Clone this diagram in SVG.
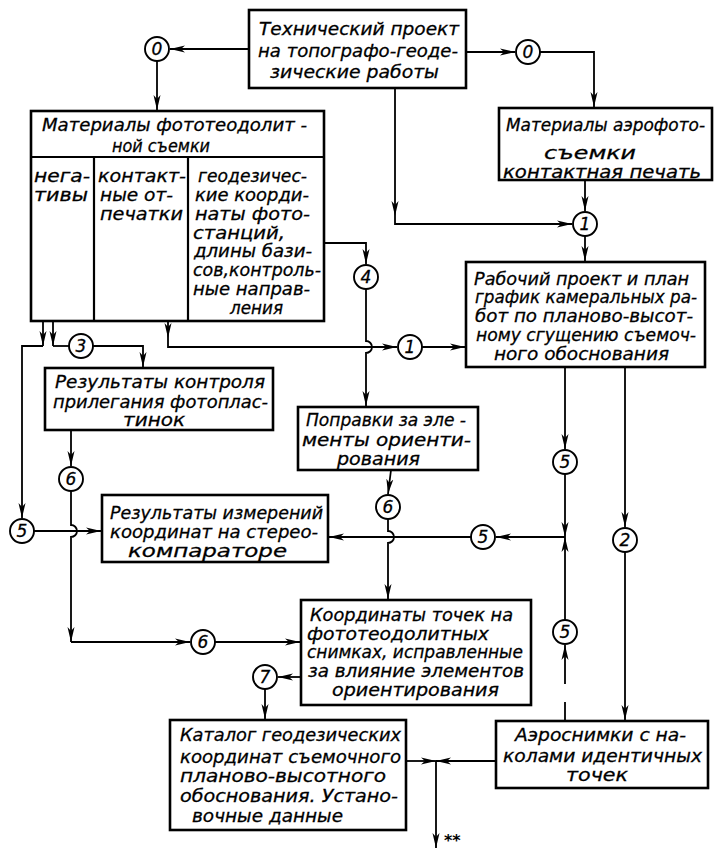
<svg xmlns="http://www.w3.org/2000/svg" width="716" height="850" viewBox="0 0 716 850">
<defs>
<marker id="ah" markerWidth="15" markerHeight="8" refX="15" refY="4" orient="auto" markerUnits="userSpaceOnUse">
<path d="M0,0.5 L15,4 L0,7.5 L4,4 z" fill="#000"/>
</marker>
<style>
.box{fill:#fff;stroke:#000;stroke-width:2.6}
.div{stroke:#000;stroke-width:2.2;fill:none}
.c{fill:#fff;stroke:#000;stroke-width:1.9}
.t{font-family:"DejaVu Sans","Liberation Sans",sans-serif;font-style:italic;font-size:18px;fill:#000;stroke:#000;stroke-width:0.3}
.n{font-family:"DejaVu Sans","Liberation Sans",sans-serif;font-style:italic;font-size:17px;fill:#000;stroke:#000;stroke-width:0.3;text-anchor:middle}
.ln{fill:none;stroke:#000;stroke-width:1.8}
.ln path{marker-end:url(#ah)}
.ln path.na{marker-end:none}
</style>
</defs>
<rect width="716" height="850" fill="#fff"/>

<g id="connectors" class="ln">
<path d="M249,49 H170"/>
<path d="M157,61 V110"/>
<path d="M466,52 H515"/>
<path d="M540,52 H594 V107"/>
<path d="M395,88 V216"/>
<path d="M395,216 V224 H572"/>
<path d="M585,180 V211"/>
<path d="M585,236 V261"/>
<path d="M324,243 H366 V264"/>
<path d="M366,289 V341 a6,6 0 0 1 0,12 V406"/>
<path d="M168,322 V338"/>
<path d="M168,338 V347 H397"/>
<path d="M422,347 H465"/>
<path d="M43,322 V346"/>
<path d="M43,346 H22 V518"/>
<path d="M53,322 V346"/>
<path class="na" d="M53,346 H69"/>
<path d="M93,346 H143 V367"/>
<path d="M71,430 V466"/>
<path d="M71,491 V525 a6,6 0 0 1 0,12 V642"/>
<path d="M71,642 H190"/>
<path d="M215,642 H300"/>
<path d="M34,531 H101"/>
<path d="M391,470 L388,494"/>
<path d="M388,519 V531 a6,6 0 0 1 0,12 V599"/>
<path d="M565,537 H496"/>
<path d="M471,537 H329"/>
<path d="M565,367 V449"/>
<path d="M565,474 V537"/>
<path d="M565,721 V702 M565,684 V645"/>
<path d="M565,620 V537"/>
<path d="M625,367 V527"/>
<path d="M625,552 V720"/>
<path d="M301,677 H278"/>
<path d="M265,689 V719"/>
<path d="M496,761 H436"/>
<path d="M406,761 H436"/>
<path d="M436,761 V848"/>
</g>

<g id="n-top">
<rect class="box" x="249" y="10" width="217" height="78"/>
<text class="t" x="259" y="35" textLength="200" lengthAdjust="spacingAndGlyphs">Технический проект</text>
<text class="t" x="258" y="57" textLength="200" lengthAdjust="spacingAndGlyphs">на топографо-геоде-</text>
<text class="t" x="270" y="78" textLength="169" lengthAdjust="spacingAndGlyphs">зические работы</text>
</g>

<g id="n-photo">
<rect class="box" x="31" y="111" width="293" height="210"/>
<path class="div" d="M31,157 H324 M94,157 V321 M188,157 V321"/>
<text class="t" x="42" y="131" textLength="265" lengthAdjust="spacingAndGlyphs">Материалы фототеодолит -</text>
<text class="t" x="112" y="152" textLength="98" lengthAdjust="spacingAndGlyphs">ной съемки</text>
<text class="t" x="34" y="182" textLength="56" lengthAdjust="spacingAndGlyphs">нега-</text>
<text class="t" x="34" y="201" textLength="54" lengthAdjust="spacingAndGlyphs">тивы</text>
<text class="t" x="98" y="182" textLength="88" lengthAdjust="spacingAndGlyphs">контакт-</text>
<text class="t" x="100" y="201" textLength="73" lengthAdjust="spacingAndGlyphs">ные от-</text>
<text class="t" x="100" y="220" textLength="83" lengthAdjust="spacingAndGlyphs">печатки</text>
<text class="t" x="198" y="182" textLength="109" lengthAdjust="spacingAndGlyphs">геодезичес-</text>
<text class="t" x="195" y="201" textLength="114" lengthAdjust="spacingAndGlyphs">кие коорди-</text>
<text class="t" x="195" y="220" textLength="115" lengthAdjust="spacingAndGlyphs">наты фото-</text>
<text class="t" x="193" y="239" textLength="92" lengthAdjust="spacingAndGlyphs">станций,</text>
<text class="t" x="194" y="257" textLength="118" lengthAdjust="spacingAndGlyphs">длины бази-</text>
<text class="t" x="193" y="276" textLength="128" lengthAdjust="spacingAndGlyphs">сов,контроль-</text>
<text class="t" x="193" y="295" textLength="117" lengthAdjust="spacingAndGlyphs">ные направ-</text>
<text class="t" x="230" y="314" textLength="53" lengthAdjust="spacingAndGlyphs">ления</text>
</g>

<g id="n-aero">
<rect class="box" x="499" y="108" width="213" height="72"/>
<text class="t" x="506" y="131" textLength="199" lengthAdjust="spacingAndGlyphs">Материалы аэрофото-</text>
<text class="t" x="544" y="159" textLength="92" lengthAdjust="spacingAndGlyphs">съемки</text>
<text class="t" x="503" y="178" textLength="198" lengthAdjust="spacingAndGlyphs">контактная печать</text>
</g>

<g id="n-work">
<rect class="box" x="466" y="262" width="239" height="105"/>
<text class="t" x="474" y="285" textLength="215" lengthAdjust="spacingAndGlyphs">Рабочий проект и план</text>
<text class="t" x="475" y="303" textLength="222" lengthAdjust="spacingAndGlyphs">график камеральных ра-</text>
<text class="t" x="475" y="322" textLength="218" lengthAdjust="spacingAndGlyphs">бот по планово-высот-</text>
<text class="t" x="476" y="341" textLength="220" lengthAdjust="spacingAndGlyphs">ному сгущению съемоч-</text>
<text class="t" x="494" y="360" textLength="175" lengthAdjust="spacingAndGlyphs">ного обоснования</text>
</g>

<g id="n-control">
<rect class="box" x="45" y="368" width="228" height="62"/>
<text class="t" x="55" y="388" textLength="210" lengthAdjust="spacingAndGlyphs">Результаты контроля</text>
<text class="t" x="53" y="408" textLength="215" lengthAdjust="spacingAndGlyphs">прилегания фотоплас-</text>
<text class="t" x="123" y="426" textLength="62" lengthAdjust="spacingAndGlyphs">тинок</text>
</g>

<g id="n-corr">
<rect class="box" x="298" y="407" width="180" height="63"/>
<text class="t" x="306" y="426" textLength="160" lengthAdjust="spacingAndGlyphs">Поправки за эле -</text>
<text class="t" x="302" y="446" textLength="169" lengthAdjust="spacingAndGlyphs">менты ориенти-</text>
<text class="t" x="337" y="465" textLength="83" lengthAdjust="spacingAndGlyphs">рования</text>
</g>

<g id="n-meas">
<rect class="box" x="102" y="495" width="226" height="67"/>
<text class="t" x="110" y="519" textLength="213" lengthAdjust="spacingAndGlyphs">Результаты измерений</text>
<text class="t" x="110" y="538" textLength="208" lengthAdjust="spacingAndGlyphs">координат на стерео-</text>
<text class="t" x="128" y="557" textLength="159" lengthAdjust="spacingAndGlyphs">компараторе</text>
</g>

<g id="n-coord">
<rect class="box" x="301" y="600" width="230" height="105"/>
<text class="t" x="310" y="621" textLength="203" lengthAdjust="spacingAndGlyphs">Координаты точек на</text>
<text class="t" x="307" y="640" textLength="182" lengthAdjust="spacingAndGlyphs">фототеодолитных</text>
<text class="t" x="307" y="658" textLength="216" lengthAdjust="spacingAndGlyphs">снимках, исправленные</text>
<text class="t" x="308" y="677" textLength="216" lengthAdjust="spacingAndGlyphs">за влияние элементов</text>
<text class="t" x="332" y="696" textLength="167" lengthAdjust="spacingAndGlyphs">ориентирования</text>
</g>

<g id="n-catalog">
<rect class="box" x="170" y="720" width="236" height="110"/>
<text class="t" x="180" y="741" textLength="221" lengthAdjust="spacingAndGlyphs">Каталог геодезических</text>
<text class="t" x="180" y="763" textLength="221" lengthAdjust="spacingAndGlyphs">координат съемочного</text>
<text class="t" x="180" y="782" textLength="206" lengthAdjust="spacingAndGlyphs">планово-высотного</text>
<text class="t" x="180" y="802" textLength="218" lengthAdjust="spacingAndGlyphs">обоснования. Устано-</text>
<text class="t" x="192" y="822" textLength="151" lengthAdjust="spacingAndGlyphs">вочные данные</text>
</g>

<g id="n-aerosnap">
<rect class="box" x="496" y="721" width="212" height="67"/>
<text class="t" x="515" y="741" textLength="171" lengthAdjust="spacingAndGlyphs">Аэроснимки с на-</text>
<text class="t" x="503" y="762" textLength="199" lengthAdjust="spacingAndGlyphs">колами идентичных</text>
<text class="t" x="566" y="781" textLength="62" lengthAdjust="spacingAndGlyphs">точек</text>
</g>

<g id="c0a"><circle class="c" cx="157" cy="49" r="12"/><text class="n" x="157" y="55">0</text></g>
<g id="c0b"><circle class="c" cx="528" cy="52" r="12"/><text class="n" x="528" y="58">0</text></g>
<g id="c1a"><circle class="c" cx="585" cy="224" r="12"/><text class="n" x="585" y="230">1</text></g>
<g id="c4"><circle class="c" cx="366" cy="277" r="12"/><text class="n" x="366" y="283">4</text></g>
<g id="c1b"><circle class="c" cx="410" cy="347" r="12"/><text class="n" x="410" y="353">1</text></g>
<g id="c3"><circle class="c" cx="81" cy="346" r="12"/><text class="n" x="81" y="352">3</text></g>
<g id="c6a"><circle class="c" cx="71" cy="479" r="12"/><text class="n" x="71" y="485">6</text></g>
<g id="c5a"><circle class="c" cx="22" cy="531" r="12"/><text class="n" x="22" y="537">5</text></g>
<g id="c6b"><circle class="c" cx="388" cy="507" r="12"/><text class="n" x="388" y="513">6</text></g>
<g id="c5b"><circle class="c" cx="565" cy="462" r="12"/><text class="n" x="565" y="468">5</text></g>
<g id="c5c"><circle class="c" cx="483" cy="537" r="12"/><text class="n" x="483" y="543">5</text></g>
<g id="c2"><circle class="c" cx="625" cy="540" r="12"/><text class="n" x="625" y="546">2</text></g>
<g id="c6c"><circle class="c" cx="203" cy="642" r="12"/><text class="n" x="203" y="648">6</text></g>
<g id="c7"><circle class="c" cx="265" cy="677" r="12"/><text class="n" x="265" y="683">7</text></g>
<g id="c5d"><circle class="c" cx="565" cy="632" r="12"/><text class="n" x="565" y="638">5</text></g>

<text id="stars" x="444" y="846" style="font-family:'DejaVu Sans',sans-serif;font-size:16px;font-weight:bold">**</text>
</svg>
